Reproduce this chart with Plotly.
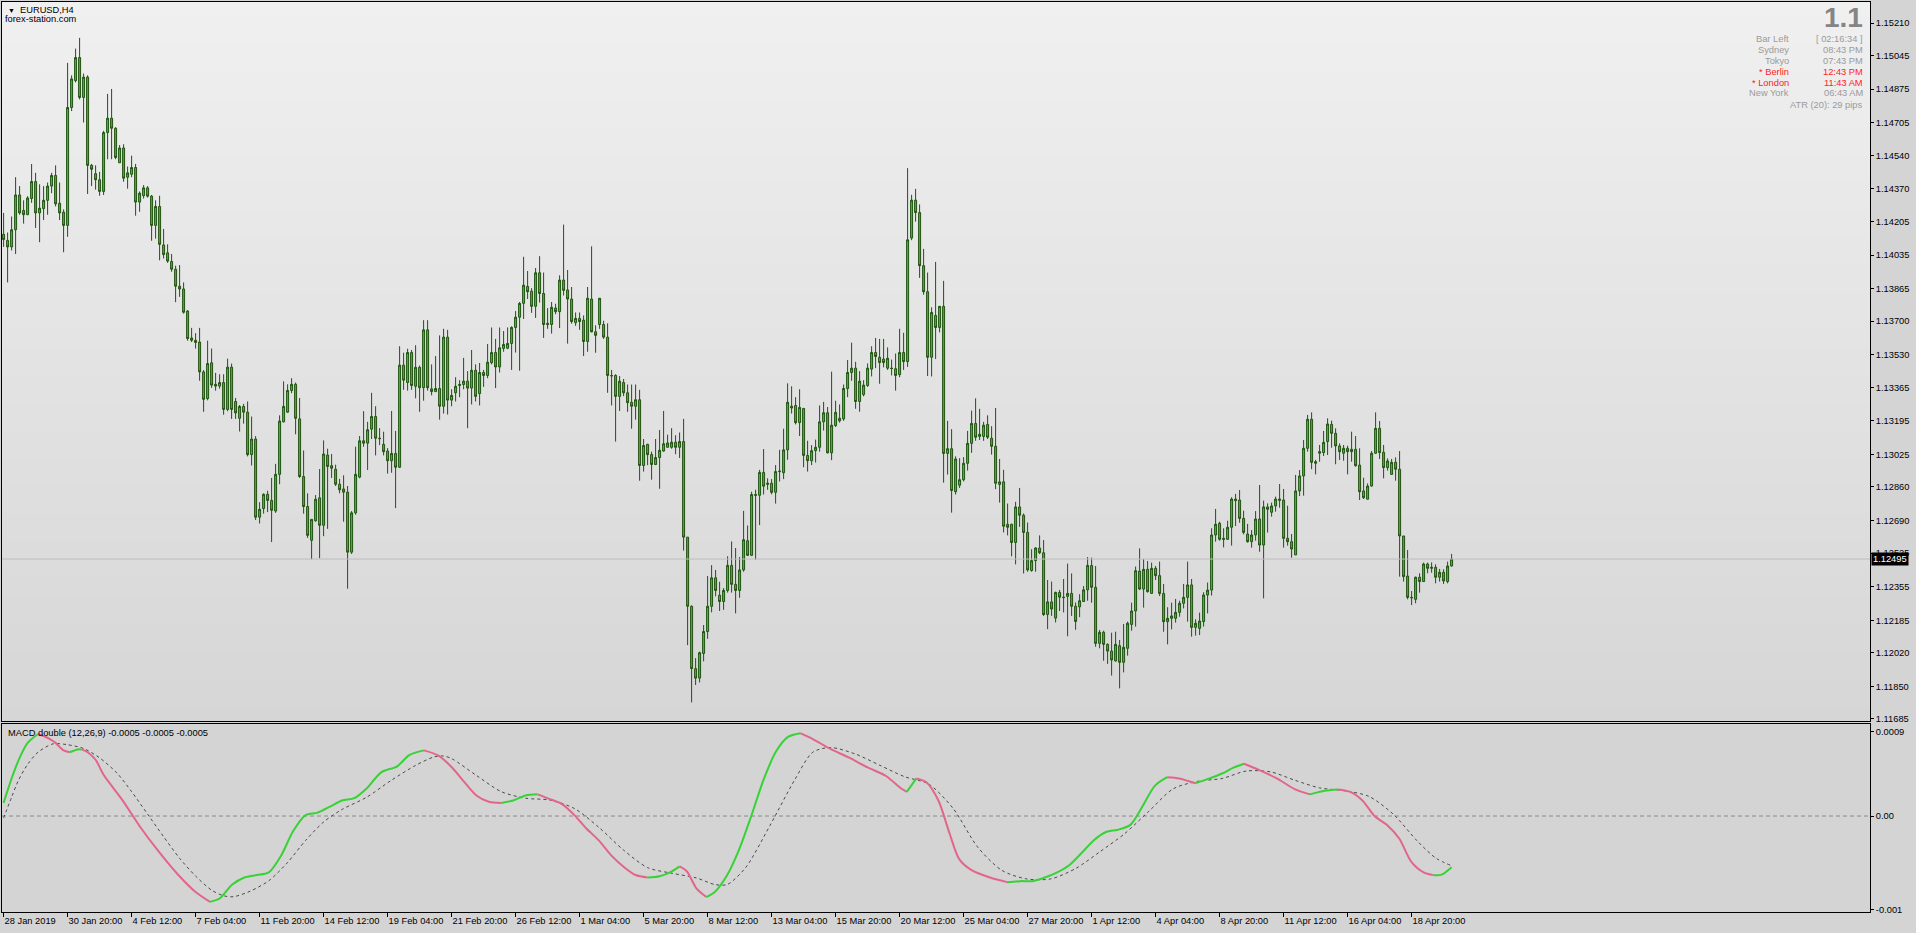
import plotly.graph_objects as go

# ---------------- DATA (EURUSD H4) ----------------
x_labels = ["28 Jan 2019", "30 Jan 20:00", "4 Feb 12:00", "7 Feb 04:00", "11 Feb 20:00",
            "14 Feb 12:00", "19 Feb 04:00", "21 Feb 20:00", "26 Feb 12:00", "1 Mar 04:00",
            "5 Mar 20:00", "8 Mar 12:00", "13 Mar 04:00", "15 Mar 20:00", "20 Mar 12:00",
            "25 Mar 04:00", "27 Mar 20:00", "1 Apr 12:00", "4 Apr 04:00", "8 Apr 20:00",
            "11 Apr 12:00", "16 Apr 04:00", "18 Apr 20:00"]
x_label_bars = [0, 16, 32, 48, 64, 80, 96, 112, 128, 144, 160, 176, 192, 208, 224,
                240, 256, 272, 288, 304, 320, 336, 352]

price_ticks = [1.15210, 1.15045, 1.14875, 1.14705, 1.14540, 1.14370, 1.14205, 1.14035,
               1.13865, 1.13700, 1.13530, 1.13365, 1.13195, 1.13025, 1.12860, 1.12690,
               1.12525, 1.12355, 1.12185, 1.12020, 1.11850, 1.11685]

opens = [
    1.14140, 1.14109, 1.14076, 1.14163, 1.14339, 1.14261, 1.14239, 1.14321, 1.14407, 1.14248,
    1.14270, 1.14312, 1.14384, 1.14438, 1.14297, 1.14252, 1.14185, 1.14782, 1.14918, 1.15035,
    1.14833, 1.14936, 1.14489, 1.14447, 1.14416, 1.14357, 1.14655, 1.14728, 1.14677, 1.14502,
    1.14577, 1.14429, 1.14444, 1.14478, 1.14303, 1.14335, 1.14375, 1.14333, 1.14185, 1.14281,
    1.14086, 1.14046, 1.14002, 1.13963, 1.13877, 1.13863, 1.13751, 1.13615, 1.13603, 1.13594,
    1.13443, 1.13308, 1.13489, 1.13380, 1.13371, 1.13389, 1.13253, 1.13467, 1.13293, 1.13208,
    1.13268, 1.13239, 1.13024, 1.13103, 1.12707, 1.12751, 1.12823, 1.12792, 1.12738, 1.12924,
    1.13190, 1.13239, 1.13349, 1.13380, 1.13205, 1.12913, 1.12761, 1.12590, 1.12689, 1.12805,
    1.12666, 1.13022, 1.12968, 1.12950, 1.12874, 1.12850, 1.12834, 1.12530, 1.12729, 1.12910,
    1.13094, 1.13082, 1.13153, 1.13217, 1.13107, 1.13076, 1.13042, 1.12993, 1.13030, 1.12960,
    1.13477, 1.13389, 1.13541, 1.13370, 1.13466, 1.13363, 1.13656, 1.13357, 1.13343, 1.13359,
    1.13269, 1.13619, 1.13300, 1.13337, 1.13374, 1.13379, 1.13396, 1.13361, 1.13451, 1.13333,
    1.13440, 1.13425, 1.13490, 1.13541, 1.13468, 1.13562, 1.13563, 1.13587, 1.13668, 1.13720,
    1.13790, 1.13876, 1.13852, 1.13775, 1.13945, 1.13840, 1.13689, 1.13683, 1.13766, 1.13748,
    1.13908, 1.13858, 1.13812, 1.13692, 1.13714, 1.13705, 1.13597, 1.13812, 1.13646, 1.13683,
    1.13683, 1.13619, 1.13425, 1.13425, 1.13319, 1.13389, 1.13337, 1.13289, 1.13269, 1.13302,
    1.12969, 1.13076, 1.13024, 1.12974, 1.13009, 1.13042, 1.13061, 1.13061, 1.13087, 1.13061,
    1.13090, 1.12606, 1.12256, 1.11940, 1.11892, 1.12017, 1.12128, 1.12256, 1.12400, 1.12312,
    1.12280, 1.12336, 1.12463, 1.12367, 1.12336, 1.12440, 1.12588, 1.12514, 1.12822, 1.12818,
    1.12934, 1.12873, 1.12879, 1.12833, 1.12938, 1.12932, 1.13048, 1.13269, 1.13273, 1.13186,
    1.13258, 1.13020, 1.12993, 1.13044, 1.13061, 1.13190, 1.13236, 1.13033, 1.13171, 1.13208,
    1.13205, 1.13359, 1.13440, 1.13462, 1.13293, 1.13328, 1.13374, 1.13457, 1.13541, 1.13517,
    1.13508, 1.13462, 1.13462, 1.13459, 1.13429, 1.13541, 1.13495, 1.14121, 1.14313, 1.14250,
    1.13981, 1.13849, 1.13517, 1.13729, 1.13668, 1.13775, 1.13030, 1.13054, 1.12836, 1.12869,
    1.12897, 1.12980, 1.13081, 1.13182, 1.13116, 1.13116, 1.13177, 1.13107, 1.13066, 1.12873,
    1.12886, 1.12671, 1.12671, 1.12579, 1.12759, 1.12717, 1.12630, 1.12437, 1.12487, 1.12551,
    1.12527, 1.12214, 1.12278, 1.12196, 1.12326, 1.12302, 1.12306, 1.12321, 1.12256, 1.12253,
    1.12280, 1.12339, 1.12462, 1.12352, 1.12068, 1.12124, 1.12063, 1.12029, 1.11979, 1.12056,
    1.11972, 1.12043, 1.12164, 1.12232, 1.12434, 1.12343, 1.12443, 1.12321, 1.12448, 1.12411,
    1.12321, 1.12178, 1.12195, 1.12195, 1.12225, 1.12271, 1.12301, 1.12364, 1.12149, 1.12144,
    1.12178, 1.12313, 1.12338, 1.12617, 1.12676, 1.12600, 1.12595, 1.12656, 1.12799, 1.12794,
    1.12701, 1.12622, 1.12583, 1.12617, 1.12698, 1.12566, 1.12759, 1.12732, 1.12764, 1.12792,
    1.12794, 1.12600, 1.12583, 1.12516, 1.12840, 1.12916, 1.13056, 1.13203, 1.12980, 1.13031,
    1.13034, 1.13090, 1.13177, 1.13132, 1.13068, 1.13031, 1.13056, 1.13051, 1.13051, 1.12971,
    1.12840, 1.12798, 1.12865, 1.13031, 1.13157, 1.13036, 1.12958, 1.12924, 1.12985, 1.12950,
    1.12612, 1.12409, 1.12301, 1.12291, 1.12403, 1.12381, 1.12470, 1.12448, 1.12453, 1.12403,
    1.12428, 1.12381, 1.12460]

highs = [
    1.14248, 1.14149, 1.14230, 1.14429, 1.14384, 1.14312, 1.14333, 1.14496, 1.14451, 1.14393,
    1.14384, 1.14402, 1.14451, 1.14489, 1.14402, 1.14266, 1.15008, 1.14945, 1.15080, 1.15135,
    1.14954, 1.14945, 1.14496, 1.14489, 1.14456, 1.14664, 1.14851, 1.14876, 1.14682, 1.14592,
    1.14596, 1.14483, 1.14538, 1.14496, 1.14357, 1.14389, 1.14384, 1.14339, 1.14312, 1.14335,
    1.14167, 1.14089, 1.14040, 1.13981, 1.13984, 1.13896, 1.13756, 1.13666, 1.13639, 1.13666,
    1.13452, 1.13601, 1.13561, 1.13438, 1.13431, 1.13431, 1.13510, 1.13485, 1.13311, 1.13275,
    1.13281, 1.13293, 1.13217, 1.13118, 1.12783, 1.12828, 1.12841, 1.12906, 1.12977, 1.13223,
    1.13395, 1.13380, 1.13411, 1.13389, 1.13311, 1.13045, 1.12828, 1.12696, 1.12819, 1.12951,
    1.13096, 1.13054, 1.13027, 1.12973, 1.12901, 1.12919, 1.12865, 1.12738, 1.13064, 1.13118,
    1.13244, 1.13190, 1.13337, 1.13269, 1.13158, 1.13140, 1.13057, 1.13245, 1.13144, 1.13573,
    1.13540, 1.13560, 1.13554, 1.13578, 1.13475, 1.13705, 1.13705, 1.13481, 1.13523, 1.13628,
    1.13661, 1.13656, 1.13355, 1.13416, 1.13401, 1.13514, 1.13447, 1.13554, 1.13481, 1.13488,
    1.13453, 1.13584, 1.13668, 1.13610, 1.13668, 1.13650, 1.13668, 1.13674, 1.13751, 1.13797,
    1.14026, 1.13954, 1.13867, 1.13969, 1.14029, 1.13946, 1.13766, 1.13797, 1.13788, 1.13932,
    1.14189, 1.13959, 1.13873, 1.13744, 1.13744, 1.13729, 1.13873, 1.14079, 1.13679, 1.13816,
    1.13702, 1.13689, 1.13453, 1.13431, 1.13422, 1.13407, 1.13379, 1.13379, 1.13379, 1.13352,
    1.13103, 1.13079, 1.13039, 1.13103, 1.13149, 1.13245, 1.13125, 1.13158, 1.13122, 1.13136,
    1.13205, 1.12606, 1.12260, 1.11993, 1.12026, 1.12161, 1.12409, 1.12464, 1.12440, 1.12380,
    1.12348, 1.12509, 1.12584, 1.12551, 1.12505, 1.12739, 1.12665, 1.12836, 1.12846, 1.12947,
    1.13052, 1.12904, 1.12900, 1.12971, 1.13048, 1.13155, 1.13385, 1.13370, 1.13315, 1.13355,
    1.13260, 1.13094, 1.13072, 1.13100, 1.13273, 1.13291, 1.13265, 1.13444, 1.13297, 1.13278,
    1.13379, 1.13503, 1.13591, 1.13494, 1.13447, 1.13401, 1.13486, 1.13573, 1.13615, 1.13610,
    1.13610, 1.13567, 1.13505, 1.13536, 1.13661, 1.13641, 1.14475, 1.14340, 1.14370, 1.14291,
    1.14066, 1.13946, 1.13770, 1.14000, 1.13775, 1.13904, 1.13195, 1.13153, 1.13015, 1.13006,
    1.13011, 1.13144, 1.13247, 1.13309, 1.13256, 1.13190, 1.13223, 1.13168, 1.13260, 1.13002,
    1.12947, 1.12776, 1.12674, 1.12785, 1.12855, 1.12726, 1.12680, 1.12545, 1.12555, 1.12615,
    1.12591, 1.12389, 1.12381, 1.12330, 1.12339, 1.12394, 1.12472, 1.12422, 1.12275, 1.12317,
    1.12358, 1.12505, 1.12502, 1.12460, 1.12136, 1.12132, 1.12068, 1.12122, 1.12127, 1.12085,
    1.12166, 1.12178, 1.12274, 1.12457, 1.12549, 1.12495, 1.12485, 1.12477, 1.12460, 1.12482,
    1.12369, 1.12251, 1.12274, 1.12293, 1.12284, 1.12369, 1.12482, 1.12394, 1.12190, 1.12224,
    1.12327, 1.12376, 1.12651, 1.12749, 1.12684, 1.12651, 1.12689, 1.12808, 1.12825, 1.12845,
    1.12740, 1.12673, 1.12642, 1.12738, 1.12870, 1.12791, 1.12777, 1.12781, 1.12811, 1.12875,
    1.12850, 1.12765, 1.12622, 1.12921, 1.12946, 1.13098, 1.13225, 1.13238, 1.12997, 1.13073,
    1.13144, 1.13208, 1.13196, 1.13157, 1.13081, 1.13073, 1.13069, 1.13140, 1.13118, 1.13056,
    1.12907, 1.12878, 1.13042, 1.13238, 1.13194, 1.13073, 1.13005, 1.13002, 1.13010, 1.13042,
    1.12612, 1.12541, 1.12333, 1.12406, 1.12423, 1.12477, 1.12477, 1.12478, 1.12468, 1.12445,
    1.12443, 1.12482, 1.12521]

lows = [
    1.14076, 1.13896, 1.14058, 1.14040, 1.14239, 1.14194, 1.14239, 1.14299, 1.14172, 1.14100,
    1.14212, 1.14239, 1.14348, 1.14281, 1.14212, 1.14049, 1.14127, 1.14764, 1.14909, 1.14823,
    1.14706, 1.14344, 1.14384, 1.14366, 1.14335, 1.14339, 1.14520, 1.14520, 1.14520, 1.14502,
    1.14406, 1.14371, 1.14429, 1.14234, 1.14254, 1.14321, 1.14326, 1.14107, 1.14118, 1.14008,
    1.14017, 1.13995, 1.13950, 1.13796, 1.13823, 1.13738, 1.13601, 1.13594, 1.13561, 1.13398,
    1.13241, 1.13299, 1.13362, 1.13348, 1.13358, 1.13226, 1.13244, 1.13205, 1.13205, 1.13141,
    1.13181, 1.13015, 1.12969, 1.12693, 1.12675, 1.12725, 1.12733, 1.12581, 1.12729, 1.12874,
    1.13187, 1.13235, 1.13335, 1.13127, 1.12906, 1.12725, 1.12602, 1.12494, 1.12684, 1.12499,
    1.12611, 1.12648, 1.12906, 1.12865, 1.12828, 1.12684, 1.12345, 1.12521, 1.12720, 1.12904,
    1.13064, 1.12946, 1.13103, 1.13020, 1.13072, 1.13020, 1.12928, 1.12932, 1.12753, 1.12956,
    1.13352, 1.13348, 1.13352, 1.13309, 1.13241, 1.13297, 1.13348, 1.13324, 1.13343, 1.13201,
    1.13232, 1.13227, 1.13269, 1.13293, 1.13315, 1.13355, 1.13158, 1.13278, 1.13293, 1.13273,
    1.13367, 1.13411, 1.13481, 1.13361, 1.13440, 1.13545, 1.13558, 1.13453, 1.13541, 1.13449,
    1.13711, 1.13812, 1.13742, 1.13716, 1.13794, 1.13615, 1.13661, 1.13637, 1.13735, 1.13665,
    1.13830, 1.13586, 1.13687, 1.13676, 1.13656, 1.13523, 1.13545, 1.13643, 1.13540, 1.13661,
    1.13610, 1.13337, 1.13273, 1.13090, 1.13245, 1.13320, 1.13241, 1.13155, 1.13201, 1.12892,
    1.12938, 1.12971, 1.12897, 1.12971, 1.12851, 1.13039, 1.13061, 1.13054, 1.13026, 1.13007,
    1.12538, 1.12059, 1.11769, 1.11857, 1.11870, 1.11977, 1.12091, 1.12225, 1.12306, 1.12232,
    1.12238, 1.12325, 1.12325, 1.12220, 1.12299, 1.12431, 1.12510, 1.12510, 1.12492, 1.12667,
    1.12822, 1.12846, 1.12823, 1.12776, 1.12888, 1.12900, 1.12998, 1.13232, 1.13177, 1.13118,
    1.12960, 1.12938, 1.12971, 1.12984, 1.13039, 1.13146, 1.13030, 1.12996, 1.13164, 1.13186,
    1.13195, 1.13315, 1.13398, 1.13256, 1.13241, 1.13319, 1.13367, 1.13420, 1.13462, 1.13383,
    1.13466, 1.13453, 1.13425, 1.13348, 1.13416, 1.13453, 1.13468, 1.14110, 1.14204, 1.13919,
    1.13834, 1.13422, 1.13420, 1.13508, 1.13643, 1.12882, 1.12923, 1.12730, 1.12822, 1.12855,
    1.12888, 1.12943, 1.13033, 1.13094, 1.13098, 1.13094, 1.13103, 1.13024, 1.12849, 1.12781,
    1.12630, 1.12615, 1.12509, 1.12468, 1.12658, 1.12422, 1.12431, 1.12431, 1.12431, 1.12520,
    1.12207, 1.12140, 1.12207, 1.12174, 1.12232, 1.12225, 1.12104, 1.12207, 1.12137, 1.12201,
    1.12280, 1.12284, 1.12274, 1.12051, 1.12043, 1.11980, 1.11964, 1.11905, 1.11975, 1.11840,
    1.11921, 1.12006, 1.12132, 1.12153, 1.12338, 1.12249, 1.12325, 1.12321, 1.12389, 1.12308,
    1.12127, 1.12063, 1.12139, 1.12173, 1.12203, 1.12245, 1.12178, 1.12102, 1.12107, 1.12110,
    1.12153, 1.12220, 1.12310, 1.12583, 1.12588, 1.12554, 1.12592, 1.12563, 1.12662, 1.12679,
    1.12620, 1.12578, 1.12553, 1.12588, 1.12532, 1.12296, 1.12629, 1.12710, 1.12735, 1.12755,
    1.12553, 1.12563, 1.12502, 1.12516, 1.12814, 1.12816, 1.13039, 1.12950, 1.12924, 1.12988,
    1.13017, 1.13022, 1.13059, 1.12975, 1.12997, 1.12993, 1.12924, 1.12988, 1.12963, 1.12794,
    1.12799, 1.12798, 1.12862, 1.13027, 1.13002, 1.12904, 1.12943, 1.12921, 1.12892, 1.12406,
    1.12381, 1.12291, 1.12262, 1.12271, 1.12325, 1.12381, 1.12423, 1.12426, 1.12372, 1.12381,
    1.12369, 1.12372, 1.12457]

closes = [
    1.14113, 1.14076, 1.14163, 1.14339, 1.14248, 1.14239, 1.14324, 1.14407, 1.14248, 1.14272,
    1.14312, 1.14384, 1.14438, 1.14294, 1.14248, 1.14185, 1.14782, 1.14927, 1.15035, 1.14833,
    1.14936, 1.14489, 1.14469, 1.14416, 1.14357, 1.14655, 1.14728, 1.14677, 1.14529, 1.14577,
    1.14424, 1.14451, 1.14478, 1.14303, 1.14348, 1.14375, 1.14333, 1.14185, 1.14281, 1.14089,
    1.14037, 1.14004, 1.13963, 1.13877, 1.13863, 1.13745, 1.13612, 1.13603, 1.13592, 1.13443,
    1.13304, 1.13485, 1.13376, 1.13371, 1.13389, 1.13253, 1.13467, 1.13253, 1.13235, 1.13268,
    1.13239, 1.13024, 1.13103, 1.12707, 1.12747, 1.12823, 1.12792, 1.12742, 1.12924, 1.13194,
    1.13268, 1.13349, 1.13380, 1.13208, 1.12913, 1.12761, 1.12615, 1.12696, 1.12798, 1.12666,
    1.13027, 1.12964, 1.12955, 1.12874, 1.12846, 1.12834, 1.12530, 1.12729, 1.12924, 1.13094,
    1.13082, 1.13150, 1.13217, 1.13107, 1.13105, 1.13039, 1.12993, 1.13030, 1.12960, 1.13477,
    1.13401, 1.13541, 1.13374, 1.13466, 1.13363, 1.13656, 1.13363, 1.13343, 1.13359, 1.13269,
    1.13619, 1.13300, 1.13324, 1.13370, 1.13379, 1.13396, 1.13361, 1.13451, 1.13319, 1.13440,
    1.13425, 1.13492, 1.13541, 1.13468, 1.13565, 1.13582, 1.13587, 1.13668, 1.13720, 1.13790,
    1.13882, 1.13849, 1.13775, 1.13945, 1.13840, 1.13683, 1.13683, 1.13770, 1.13748, 1.13908,
    1.13856, 1.13812, 1.13698, 1.13714, 1.13698, 1.13597, 1.13816, 1.13646, 1.13628, 1.13816,
    1.13619, 1.13425, 1.13423, 1.13319, 1.13396, 1.13337, 1.13287, 1.13269, 1.13302, 1.12969,
    1.13070, 1.13024, 1.12974, 1.13009, 1.13046, 1.13079, 1.13083, 1.13087, 1.13061, 1.13090,
    1.12606, 1.12256, 1.11940, 1.11892, 1.12021, 1.12128, 1.12256, 1.12400, 1.12336, 1.12280,
    1.12336, 1.12463, 1.12367, 1.12336, 1.12440, 1.12593, 1.12514, 1.12822, 1.12818, 1.12934,
    1.12864, 1.12879, 1.12833, 1.12938, 1.12940, 1.13048, 1.13289, 1.13260, 1.13186, 1.13263,
    1.13020, 1.12993, 1.13044, 1.13061, 1.13190, 1.13236, 1.13033, 1.13173, 1.13238, 1.13195,
    1.13359, 1.13440, 1.13462, 1.13293, 1.13396, 1.13376, 1.13462, 1.13541, 1.13521, 1.13490,
    1.13490, 1.13512, 1.13460, 1.13425, 1.13541, 1.13495, 1.14112, 1.14313, 1.14250, 1.13981,
    1.13849, 1.13517, 1.13744, 1.13668, 1.13775, 1.13030, 1.13054, 1.12842, 1.13002, 1.12897,
    1.12980, 1.13081, 1.13182, 1.13112, 1.13127, 1.13173, 1.13112, 1.13066, 1.12879, 1.12886,
    1.12661, 1.12656, 1.12579, 1.12759, 1.12717, 1.12630, 1.12440, 1.12487, 1.12551, 1.12527,
    1.12214, 1.12278, 1.12242, 1.12326, 1.12302, 1.12300, 1.12321, 1.12256, 1.12179, 1.12284,
    1.12339, 1.12463, 1.12352, 1.12068, 1.12124, 1.12063, 1.12029, 1.11984, 1.12063, 1.11972,
    1.12048, 1.12170, 1.12232, 1.12436, 1.12343, 1.12443, 1.12330, 1.12448, 1.12411, 1.12321,
    1.12178, 1.12195, 1.12207, 1.12225, 1.12271, 1.12301, 1.12364, 1.12149, 1.12170, 1.12181,
    1.12313, 1.12338, 1.12617, 1.12671, 1.12595, 1.12595, 1.12656, 1.12799, 1.12791, 1.12701,
    1.12630, 1.12583, 1.12617, 1.12698, 1.12566, 1.12759, 1.12747, 1.12764, 1.12799, 1.12799,
    1.12600, 1.12583, 1.12546, 1.12840, 1.12916, 1.13056, 1.13203, 1.12985, 1.12988, 1.13039,
    1.13086, 1.13179, 1.13132, 1.13068, 1.13039, 1.13056, 1.13039, 1.13039, 1.12968, 1.12836,
    1.12806, 1.12865, 1.13031, 1.13157, 1.13034, 1.12958, 1.12992, 1.12985, 1.12950, 1.12612,
    1.12406, 1.12301, 1.12299, 1.12403, 1.12381, 1.12470, 1.12448, 1.12453, 1.12403, 1.12428,
    1.12384, 1.12460, 1.12495]

# MACD main line (bar position, value) read from the indicator window
macd_x = [0, 2, 4, 6, 8.6, 10, 12, 13, 15, 16.5, 18.5, 19.5, 21, 23, 25, 29.7, 34.2, 38.8, 43.4, 48,
          51.6, 54.1, 57.1, 60.2, 63.3, 66.3, 69.4, 72.4, 75.5, 78.5, 81.6, 84.6, 87.7, 90.8, 94.4,
          98.4, 101.4, 105.1, 108.5, 112.1, 115.2, 118.2, 121.3, 124.4, 127.4, 130.5, 133.5, 136.6,
          139.6, 142.7, 145.7, 148.8, 151.9, 154.9, 158, 161, 164, 167.1, 169, 170.8, 173.2, 175.7,
          177.8, 180.9, 183.9, 187, 190, 193.1, 196.1, 199.2, 202.3, 206.8, 211.4, 216, 220.6, 224.3,
          225.8, 228.2, 230.7, 233.7, 236.5, 238.9, 242, 246.6, 251.1, 254.2, 257.2, 260.3, 263.4,
          266.4, 269.5, 272.5, 275.6, 278.6, 281.7, 284.7, 287.8, 290.9, 293.9, 297.9, 301.5, 304.6,
          307.6, 310.1, 313.8, 318.3, 322.9, 326.6, 330.6, 333.6, 336.7, 339.7, 342.8, 345.8, 348.9,
          351.9, 355, 357.5, 359.5, 362]
macd_v = [0.14e-3, 0.40e-3, 0.62e-3, 0.78e-3, 0.875e-3, 0.853e-3, 0.81e-3, 0.78e-3, 0.70e-3, 0.68e-3,
          0.71e-3, 0.71e-3, 0.68e-3, 0.60e-3, 0.44e-3, 0.17e-3, -0.12e-3, -0.38e-3, -0.615e-3, -0.81e-3,
          -0.915e-3, -0.876e-3, -0.733e-3, -0.655e-3, -0.629e-3, -0.60e-3, -0.42e-3, -0.16e-3, 0.01e-3, 0.036e-3,
          0.10e-3, 0.166e-3, 0.19e-3, 0.296e-3, 0.466e-3, 0.53e-3, 0.65e-3, 0.70e-3, 0.648e-3, 0.518e-3,
          0.361e-3, 0.219e-3, 0.153e-3, 0.14e-3, 0.166e-3, 0.219e-3, 0.231e-3, 0.18e-3, 0.127e-3, 0.01e-3,
          -0.133e-3, -0.26e-3, -0.42e-3, -0.537e-3, -0.629e-3, -0.655e-3, -0.642e-3, -0.589e-3, -0.537e-3, -0.589e-3,
          -0.77e-3, -0.863e-3, -0.81e-3, -0.629e-3, -0.355e-3, 0.01e-3, 0.388e-3, 0.687e-3, 0.843e-3, 0.883e-3,
          0.82e-3, 0.713e-3, 0.622e-3, 0.518e-3, 0.427e-3, 0.296e-3, 0.257e-3, 0.401e-3, 0.361e-3, 0.166e-3,
          -0.186e-3, -0.459e-3, -0.577e-3, -0.655e-3, -0.707e-3, -0.694e-3, -0.694e-3, -0.655e-3, -0.60e-3, -0.524e-3,
          -0.394e-3, -0.26e-3, -0.17e-3, -0.146e-3, -0.094e-3, 0.101e-3, 0.322e-3, 0.414e-3, 0.401e-3, 0.349e-3,
          0.401e-3, 0.453e-3, 0.518e-3, 0.557e-3, 0.492e-3, 0.401e-3, 0.284e-3, 0.231e-3, 0.271e-3, 0.284e-3,
          0.257e-3, 0.166e-3, -0.003e-3, -0.094e-3, -0.24e-3, -0.485e-3, -0.60e-3, -0.63e-3, -0.625e-3, -0.545e-3]

# MACD signal line (dashed)
sig_x = [0, 2, 3.7, 6, 8.6, 12.4, 16, 20, 24, 28.3, 32, 36, 40, 44, 48, 52, 55, 57.5, 61.7, 66.3,
         70.9, 75.5, 80.1, 84.6, 90.75, 96.9, 103, 107.6, 110, 112.1, 118.3, 124.4, 130.5, 136.6,
         142.7, 148.8, 154.9, 161, 167.1, 173.2, 177.8, 180.9, 185.5, 191.6, 197.7, 202.3, 206.8,
         213, 219.1, 225.2, 231.3, 237.4, 243.5, 249.6, 255.7, 261.8, 268, 274.1, 280.2, 286.3,
         292.4, 298.5, 304.6, 310.7, 316.8, 322.9, 329, 335.1, 341.3, 347.4, 353.5, 358.1, 362]
sig_v = [-0.02e-3, 0.2e-3, 0.38e-3, 0.55e-3, 0.68e-3, 0.77e-3, 0.76e-3, 0.72e-3, 0.62e-3, 0.46e-3,
         0.26e-3, 0.02e-3, -0.22e-3, -0.45e-3, -0.64e-3, -0.79e-3, -0.85e-3, -0.86e-3, -0.80e-3, -0.69e-3,
         -0.50e-3, -0.26e-3, -0.06e-3, 0.07e-3, 0.20e-3, 0.38e-3, 0.54e-3, 0.63e-3, 0.64e-3, 0.61e-3,
         0.43e-3, 0.26e-3, 0.19e-3, 0.17e-3, 0.08e-3, -0.12e-3, -0.36e-3, -0.55e-3, -0.61e-3, -0.66e-3,
         -0.73e-3, -0.73e-3, -0.55e-3, -0.10e-3, 0.38e-3, 0.68e-3, 0.73e-3, 0.66e-3, 0.54e-3, 0.42e-3,
         0.34e-3, 0.08e-3, -0.33e-3, -0.58e-3, -0.67e-3, -0.67e-3, -0.56e-3, -0.38e-3, -0.19e-3, 0.05e-3,
         0.29e-3, 0.37e-3, 0.40e-3, 0.48e-3, 0.47e-3, 0.38e-3, 0.30e-3, 0.27e-3, 0.21e-3, 0.02e-3,
         -0.27e-3, -0.45e-3, -0.53e-3]

macd_ticks = [0.0009, 0.0, -0.001]
macd_ticktext = ["0.0009", "0.00", "-0.001"]

info_labels = ["Bar Left", "Sydney", "Tokyo", "* Berlin", "* London", "New York"]
info_values = ["[ 02:16:34 ]", "08:43 PM", "07:43 PM", "12:43 PM", "11:43 AM", "06:43 AM"]
info_red = [False, False, False, True, True, False]

# ---------------- STYLE / LAYOUT ----------------
W, H = 1916, 933
ML, MR, MT, MB = 2, 46, 2, 21
PW, PH = W - ML - MR, H - MT - MB
FONT = "Liberation Sans, Arial, sans-serif"
FS = 9.3

XR = [-0.4, 466.6]
Y_PRICE = [1.116748, 1.153164]
Y_MACD = [-0.001023, 0.000981]
BID = closes[-1]

def ax(px):
    return (px - ML) / PW

def ay(py):
    return (H - MB - py) / PH

n = len(closes)
bars = list(range(n))
highs = [max(h, o, c) for h, o, c in zip(highs, opens, closes)]
lows = [min(l, o, c) for l, o, c in zip(lows, opens, closes)]

fig = go.Figure()

# gradient background of the price window
fig.add_trace(go.Heatmap(x=[XR[0] - 5, XR[1] + 5], y=[Y_PRICE[0], Y_PRICE[1]], z=[[0, 0], [1, 1]],
                         zmin=0, zmax=1, colorscale=[[0, "#d6d6d6"], [1, "#f0f0f0"]],
                         zsmooth="best", showscale=False, hoverinfo="skip", xaxis="x", yaxis="y"))
# bid line
fig.add_trace(go.Scatter(x=XR, y=[BID, BID], mode="lines", line=dict(color="#bdbdbd", width=1),
                         hoverinfo="skip", xaxis="x", yaxis="y"))
# candles
fig.add_trace(go.Candlestick(x=bars, open=opens, high=highs, low=lows, close=closes,
                             increasing=dict(line=dict(color="#1d5410", width=1), fillcolor="#3cc43a"),
                             decreasing=dict(line=dict(color="#1d5410", width=1), fillcolor="#c8704c"),
                             whiskerwidth=0, hoverinfo="skip", xaxis="x", yaxis="y"))

# MACD signal (dashed)
fig.add_trace(go.Scatter(x=sig_x, y=sig_v, mode="lines",
                         line=dict(color="#4a4a4a", width=1, dash="3px,3px", shape="spline", smoothing=0.8),
                         hoverinfo="skip", xaxis="x2", yaxis="y2"))
# MACD main line coloured by direction
UP, DN = "#36d236", "#e2668a"
runs, cur, cur_col = [], [], None
for i in range(len(macd_x) - 1):
    col = UP if macd_v[i + 1] >= macd_v[i] else DN
    if col != cur_col:
        if cur:
            runs.append((cur_col, cur))
        cur, cur_col = [i], col
    cur.append(i + 1)
runs.append((cur_col, cur))
for col, idx in runs:
    fig.add_trace(go.Scatter(x=[macd_x[j] for j in idx], y=[macd_v[j] for j in idx], mode="lines",
                             line=dict(color=col, width=2, shape="spline", smoothing=0.8),
                             hoverinfo="skip", xaxis="x2", yaxis="y2"))

axis_common = dict(showgrid=False, zeroline=False, showline=True, linecolor="black", linewidth=1,
                   mirror=True, tickcolor="black", tickfont=dict(family=FONT, size=FS, color="black"))

fig.update_layout(
    width=W, height=H, margin=dict(l=ML, r=MR, t=MT, b=MB),
    paper_bgcolor="#d4d4d4", plot_bgcolor="#d4d4d4", showlegend=False, hovermode=False,
    boxgap=0.3,
    xaxis=dict(domain=[0, 1], anchor="y", range=XR, showticklabels=False, ticks="",
               rangeslider=dict(visible=False), **axis_common),
    yaxis=dict(domain=[ay(721), 1], anchor="x", range=Y_PRICE, side="right",
               tickvals=price_ticks, ticktext=[f"{v:.5f}" for v in price_ticks],
               ticks="outside", ticklen=3, **axis_common),
    xaxis2=dict(domain=[0, 1], anchor="y2", range=XR, tickvals=x_label_bars, ticktext=x_labels,
                ticks="outside", ticklen=4, ticklabelposition="outside right", **axis_common),
    yaxis2=dict(domain=[0, ay(724)], anchor="x2", range=Y_MACD, side="right",
                tickvals=macd_ticks, ticktext=macd_ticktext, ticks="outside", ticklen=3, **axis_common),
    shapes=[dict(type="line", xref="x2 domain", x0=0, x1=1, yref="y2", y0=0, y1=0, layer="below",
                 line=dict(color="#8a8a8a", width=1, dash="4px,3px"))],
)

ann = []
def text(x, y, s, anchor="left", size=FS, color="black", bold=False, **kw):
    ann.append(dict(xref="paper", yref="paper", x=ax(x), y=ay(y), text=(f"<b>{s}</b>" if bold else s),
                    showarrow=False, xanchor=anchor, yanchor="middle",
                    font=dict(family=FONT, size=size, color=color), **kw))

text(5.5, 10.5, "▼", size=7)
text(17.5, 10, "EURUSD,H4")
text(3, 18.5, "forex-station.com")
text(6, 733, "MACD double (12,26,9) -0.0005 -0.0005 -0.0005")

text(1865, 17.5, "1.1", anchor="right", size=28, color="#858585", bold=True)
rows_y = [38.7, 50, 61, 71.7, 82.7, 93.3]
for lab, val, red, yy in zip(info_labels, info_values, info_red, rows_y):
    c = "#ff1c1c" if red else "#9a9a9a"
    text(1791, yy, lab, anchor="right", color=c)
    text(1865, yy, val, anchor="right", color=c)
text(1865, 105, "ATR (20): 29 pips", anchor="right", color="#9a9a9a")

# bid price box on the price scale
ann.append(dict(xref="paper", yref="y", x=1, y=BID, text=f"{BID:.5f}", showarrow=False,
                xanchor="left", yanchor="middle", xshift=1, bgcolor="black", borderpad=1,
                font=dict(family=FONT, size=FS, color="white")))

fig.update_layout(annotations=ann)
fig.write_html("out.html", config={"displayModeBar": False},
               post_script="document.body.style.margin='0px';")
